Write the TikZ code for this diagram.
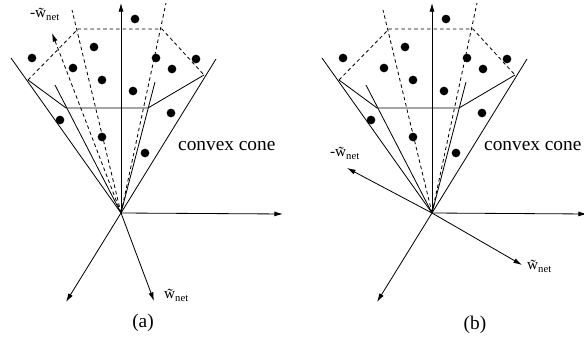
\documentclass[tikz,border=0pt]{standalone}
\usepackage{fontspec}
\setmainfont{Liberation Serif}
\usetikzlibrary{arrows.meta, positioning}

\newcommand{\wnetlbl}{\~{w}\textsubscript{net}}

\begin{document}
\begin{tikzpicture}[
    x=0.03cm, y=-0.03cm,
    edge/.style={line width=0.7pt},
    hidden/.style={line width=0.7pt, dash pattern=on 3pt off 2.5pt},
    arr/.style={line width=0.7pt, -{Latex[length=2.6mm, width=1.5mm]}},
    dot/.style={circle, fill, inner sep=0pt, minimum size=2.6mm},
    lbl/.style={font=\fontsize{13}{15}\selectfont, inner sep=0pt},
    capt/.style={font=\fontsize{16.5}{19}\selectfont, inner sep=0pt},
]
\useasboundingbox (0,0) rectangle (584,347);

% the cone, drawn once per panel
\foreach \sx/\p/\ax/\tx in {0/a/283/178, 311/b/276/173} {
  \begin{scope}[shift={(\sx,0)}]
    \coordinate (O\p) at (121,213);
    % solid cross-section
    \coordinate (A\p) at (28,80);
    \coordinate (B\p) at (66,108);
    \coordinate (C\p) at (148,108);
    \coordinate (D\p) at (204,75);
    % hidden cross-section
    \coordinate (E\p) at (78,29);
    \coordinate (F\p) at (162,29);
    % ray ends
    \coordinate (rA\p) at (11,58);
    \coordinate (rB\p) at (55,85);
    \coordinate (rC\p) at (155,82);
    \coordinate (rD\p) at (216,59);
    \coordinate (rE\p) at (72,10);
    \coordinate (rF\p) at (166,3);
    % axes
    \coordinate (up\p) at (121,3);
    \coordinate (rt\p) at (\ax,214);
    \coordinate (dn\p) at (66,302);

    \foreach \r in {A,B,C,D} {
      \draw[edge] (O\p) -- (r\r\p);
    }
    \foreach \r in {E,F} {
      \draw[hidden] (O\p) -- (r\r\p);
    }
    \draw[edge] (A\p) -- (B\p) -- (C\p) -- (D\p);
    \draw[hidden] (A\p) -- (E\p) -- (F\p) -- (D\p);

    \draw[arr] (O\p) -- (up\p);
    \draw[arr] (O\p) -- (rt\p);
    \draw[arr] (O\p) -- (dn\p);

    \foreach \x/\y [count=\i] in {135/19, 94/47, 32/58, 73/68, 102/80, 156/58,
        196/59, 172/69, 133/91, 171/113, 60/120, 102/137, 145/153} {
      \node[dot] (pt\p\i) at (\x,\y) {};
    }

    \node[capt, anchor=west] (cone\p) at (\tx,146) {convex cone};
  \end{scope}
}

% panel (a): w_net below, -w_net hidden inside the cone
\coordinate (wa) at (154,301);
\coordinate (mwa) at (52,33);
\draw[arr] (Oa) -- (wa);
\draw[arr, hidden] (Oa) -- (mwa);
\node[lbl, anchor=west] (wlbla) at (164,295) {\wnetlbl};
\node[lbl] (mwlbla) at (45,14) {-\wnetlbl};

% panel (b): w_net to the right, -w_net outside the cone
\coordinate (wb) at (522,265);
\coordinate (mwb) at (347,168);
\draw[arr] (Ob) -- (wb);
\draw[arr] (Ob) -- (mwb);
\node[lbl, anchor=west] (wlblb) at (527,266) {\wnetlbl};
\node[lbl] (mwlblb) at (345,153) {-\wnetlbl};

% captions
\node[capt] (capa) at (143,323) {(a)};
\node[capt] (capb) at (475,325) {(b)};

\end{tikzpicture}
\end{document}
